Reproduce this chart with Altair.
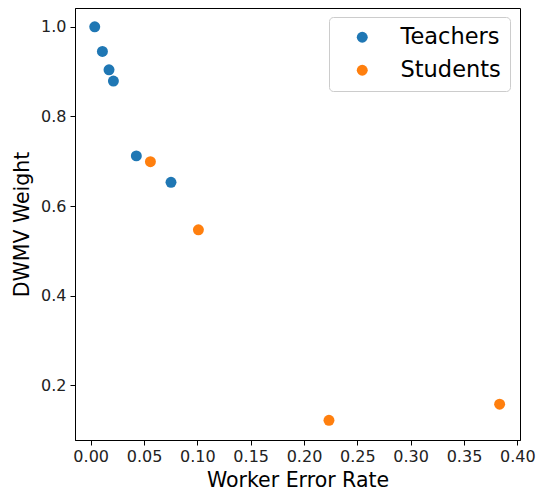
import altair as alt
import pandas as pd

teacher_x = [0.0038, 0.0110, 0.0172, 0.0213, 0.0428, 0.0753]
teacher_y = [1.000, 0.945, 0.904, 0.879, 0.712, 0.653]
student_x = [0.0560, 0.1010, 0.2234, 0.3834]
student_y = [0.699, 0.547, 0.122, 0.158]

groups = ["Teachers", "Students"]
colors = ["#1f77b4", "#ff7f0e"]
x_ticks = [0.0, 0.05, 0.1, 0.15, 0.2, 0.25, 0.3, 0.35, 0.4]
y_ticks = [0.2, 0.4, 0.6, 0.8, 1.0]

df = pd.DataFrame(
    {
        "x": teacher_x + student_x,
        "y": teacher_y + student_y,
        "group": ["Teachers"] * len(teacher_x) + ["Students"] * len(student_x),
    }
)

font = "DejaVu Sans"

chart = (
    alt.Chart(df)
    .mark_circle(size=120, opacity=1)
    .encode(
        x=alt.X(
            "x:Q",
            title="Worker Error Rate",
            scale=alt.Scale(domain=[-0.0147, 0.4025], nice=False, zero=False),
            axis=alt.Axis(values=x_ticks, format=".2f", grid=False, tickSize=5,
                          labelPadding=3, titlePadding=6),
        ),
        y=alt.Y(
            "y:Q",
            title="DWMV Weight",
            scale=alt.Scale(domain=[0.078, 1.042], nice=False, zero=False),
            axis=alt.Axis(values=y_ticks, format=".1f", grid=False, tickSize=5,
                          labelPadding=4, titlePadding=8),
        ),
        color=alt.Color(
            "group:N",
            scale=alt.Scale(domain=groups, range=colors),
            legend=alt.Legend(
                title=None,
                orient="none",
                legendX=254,
                legendY=9,
                padding=9,
                symbolOffset=13,
                labelOffset=27,
                rowPadding=10,
                symbolSize=120,
                symbolType="circle",
                labelFontSize=22.5,
                labelFont=font,
                labelColor="black",
                strokeColor="#cccccc",
                fillColor="white",
                cornerRadius=4,
            ),
        ),
    )
    .properties(
        width=445,
        height=432,
        autosize=alt.AutoSizeParams(type="none"),
        padding={"left": 67, "top": 0, "right": 16, "bottom": 53},
    )
    .configure_view(stroke="black", strokeWidth=1)
    .configure_axis(
        domainColor="black",
        tickColor="black",
        labelColor="#222222",
        titleColor="black",
        labelFont=font,
        titleFont=font,
        labelFontSize=16,
        titleFontSize=20.5,
        titleFontWeight="normal",
    )
)

chart.save("out.html", embed_options={"renderer": "svg", "actions": False})
